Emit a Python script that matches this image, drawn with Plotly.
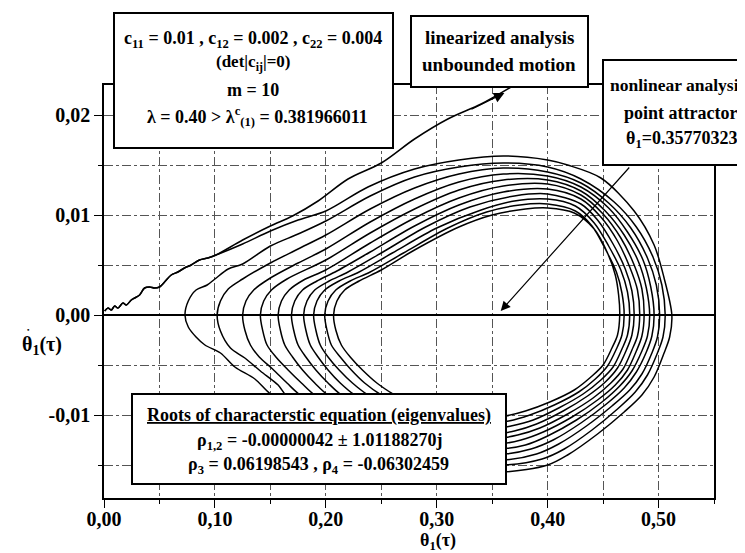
import plotly.graph_objects as go

# ---------------- data ----------------
x_tick_vals = [0.0, 0.1, 0.2, 0.3, 0.4, 0.5]
x_tick_text = ["0,00", "0,10", "0,20", "0,30", "0,40", "0,50"]
y_tick_vals = [-0.01, 0.0, 0.01, 0.02]
y_tick_text = ["-0,01", "0,00", "0,01", "0,02"]

# common start of both analyses (small wiggles near origin)
start_pts = [(0.0006, 0.0004), (0.0036, 0.0007), (0.0066, 0.0005), (0.0096, 0.0009),
             (0.0126, 0.0007), (0.0171, 0.0012), (0.0201, 0.0010), (0.0246, 0.0015),
             (0.0276, 0.0017), (0.0321, 0.0020), (0.0366, 0.0027), (0.0411, 0.0028),
             (0.0456, 0.0027), (0.0500, 0.0028), (0.0546, 0.0033), (0.0606, 0.0040),
             (0.0666, 0.0043), (0.0726, 0.0047), (0.0786, 0.0050), (0.0861, 0.0055),
             (0.0936, 0.0057), (0.1010, 0.0060)]

linearized_rest = [(0.125, 0.0075), (0.150, 0.0089), (0.170, 0.0099), (0.193, 0.0114),
                   (0.220, 0.0136), (0.250, 0.0152), (0.280, 0.0176), (0.310, 0.0196),
                   (0.340, 0.0211), (0.367, 0.0228)]

loop01_top = [(0.125, 0.0071), (0.150, 0.0084), (0.175, 0.0095), (0.200, 0.0104),
              (0.238, 0.0128), (0.280, 0.0146), (0.320, 0.0155), (0.360, 0.0159),
              (0.400, 0.0155), (0.418, 0.0150), (0.448, 0.0137), (0.478, 0.0104),
              (0.496, 0.0070), (0.505, 0.0037), (0.512, 0.0)]
loop01_bot = [(0.510, -0.0022), (0.505, -0.0038), (0.496, -0.0062), (0.485, -0.0080),
              (0.469, -0.0097), (0.445, -0.0119), (0.418, -0.0140), (0.400, -0.0150),
              (0.360, -0.0157), (0.320, -0.0154), (0.280, -0.0143), (0.240, -0.0125),
              (0.200, -0.0107), (0.170, -0.0092), (0.150, -0.0079), (0.136, -0.0064),
              (0.118, -0.0052), (0.105, -0.0038), (0.091, -0.0030), (0.083, -0.0022),
              (0.076, -0.0012), (0.073, 0.0)]
loop02_top = [(0.076, 0.0014), (0.083, 0.0025), (0.093, 0.0030), (0.100, 0.0036),
              (0.112, 0.0046), (0.125, 0.0051), (0.150, 0.0069), (0.175, 0.0081),
              (0.200, 0.0094), (0.240, 0.0119), (0.280, 0.0138), (0.320, 0.0148),
              (0.360, 0.0152), (0.400, 0.0148), (0.430, 0.0136), (0.460, 0.0113),
              (0.480, 0.0088), (0.495, 0.0058), (0.503, 0.0030), (0.506, 0.0)]
loop02_bot = [(0.504, -0.0022), (0.499, -0.0038), (0.490, -0.0060), (0.479, -0.0077),
              (0.463, -0.0094), (0.440, -0.0115), (0.415, -0.0134), (0.395, -0.0144),
              (0.360, -0.0150), (0.320, -0.0147), (0.280, -0.0135), (0.240, -0.0117),
              (0.200, -0.0098), (0.175, -0.0086), (0.164, -0.0080), (0.157, -0.0070),
              (0.141, -0.0056), (0.127, -0.0043), (0.114, -0.0033), (0.105, -0.0016),
              (0.102, 0.0)]
loop03_top = [(0.105, 0.0014), (0.112, 0.0026), (0.125, 0.0036), (0.150, 0.0052),
              (0.175, 0.0066), (0.200, 0.0080), (0.240, 0.0106), (0.280, 0.0127),
              (0.320, 0.0141), (0.360, 0.0147), (0.400, 0.0143), (0.430, 0.0132),
              (0.455, 0.0112), (0.475, 0.0087), (0.490, 0.0057), (0.498, 0.0030),
              (0.501, 0.0)]
loop03_bot = [(0.499, -0.0022), (0.494, -0.0038), (0.485, -0.0059), (0.474, -0.0075),
              (0.458, -0.0091), (0.435, -0.0111), (0.410, -0.0129), (0.390, -0.0139),
              (0.360, -0.0145), (0.320, -0.0141), (0.280, -0.0128), (0.240, -0.0110),
              (0.200, -0.0092), (0.177, -0.0080), (0.165, -0.0068), (0.152, -0.0054),
              (0.140, -0.0042), (0.132, -0.0030), (0.127, -0.0015), (0.125, 0.0)]
loop04_top = [(0.128, 0.0014), (0.135, 0.0025), (0.150, 0.0037), (0.175, 0.0052),
              (0.200, 0.0066), (0.240, 0.0093), (0.280, 0.0116), (0.320, 0.0133),
              (0.360, 0.0141), (0.400, 0.0139), (0.430, 0.0128), (0.455, 0.0107),
              (0.472, 0.0083), (0.486, 0.0055), (0.493, 0.0028), (0.496, 0.0)]
loop04_bot = [(0.494, -0.0021), (0.489, -0.0037), (0.480, -0.0057), (0.469, -0.0073),
              (0.453, -0.0089), (0.430, -0.0108), (0.405, -0.0125), (0.385, -0.0134),
              (0.360, -0.0139), (0.320, -0.0135), (0.280, -0.0122), (0.240, -0.0104),
              (0.210, -0.0090), (0.190, -0.0080), (0.178, -0.0068), (0.166, -0.0055),
              (0.155, -0.0042), (0.147, -0.0030), (0.143, -0.0015), (0.141, 0.0)]
loop05_top = [(0.144, 0.0014), (0.151, 0.0025), (0.165, 0.0036), (0.200, 0.0055),
              (0.240, 0.0082), (0.280, 0.0106), (0.320, 0.0125), (0.360, 0.0135),
              (0.400, 0.0135), (0.430, 0.0124), (0.452, 0.0104), (0.469, 0.0080),
              (0.482, 0.0053), (0.489, 0.0027), (0.492, 0.0)]
loop05_bot = [(0.490, -0.0021), (0.485, -0.0036), (0.476, -0.0056), (0.465, -0.0071),
              (0.449, -0.0087), (0.426, -0.0105), (0.400, -0.0121), (0.380, -0.0130),
              (0.355, -0.0134), (0.320, -0.0130), (0.280, -0.0117), (0.240, -0.0099),
              (0.220, -0.0089), (0.202, -0.0080), (0.190, -0.0068), (0.179, -0.0055),
              (0.170, -0.0042), (0.163, -0.0030), (0.159, -0.0015), (0.157, 0.0)]
loop06_top = [(0.160, 0.0014), (0.167, 0.0025), (0.180, 0.0035), (0.200, 0.0045),
              (0.240, 0.0072), (0.280, 0.0097), (0.320, 0.0117), (0.360, 0.0129),
              (0.400, 0.0131), (0.430, 0.0120), (0.450, 0.0101), (0.466, 0.0077),
              (0.478, 0.0050), (0.485, 0.0026), (0.487, 0.0)]
loop06_bot = [(0.485, -0.0021), (0.480, -0.0036), (0.472, -0.0055), (0.461, -0.0070),
              (0.445, -0.0085), (0.422, -0.0102), (0.396, -0.0117), (0.376, -0.0125),
              (0.355, -0.0129), (0.320, -0.0125), (0.280, -0.0112), (0.250, -0.0099),
              (0.230, -0.0089), (0.214, -0.0080), (0.202, -0.0068), (0.191, -0.0055),
              (0.182, -0.0042), (0.175, -0.0030), (0.171, -0.0015), (0.169, 0.0)]
loop07_top = [(0.172, 0.0014), (0.179, 0.0025), (0.192, 0.0034), (0.210, 0.0044),
              (0.240, 0.0063), (0.280, 0.0089), (0.320, 0.0110), (0.360, 0.0123),
              (0.400, 0.0126), (0.430, 0.0116), (0.448, 0.0098), (0.463, 0.0074),
              (0.474, 0.0048), (0.481, 0.0025), (0.483, 0.0)]
loop07_bot = [(0.481, -0.0021), (0.476, -0.0035), (0.468, -0.0054), (0.457, -0.0068),
              (0.441, -0.0083), (0.418, -0.0099), (0.393, -0.0113), (0.373, -0.0120),
              (0.350, -0.0124), (0.320, -0.0120), (0.290, -0.0110), (0.260, -0.0097),
              (0.240, -0.0088), (0.226, -0.0080), (0.213, -0.0068), (0.202, -0.0055),
              (0.193, -0.0042), (0.186, -0.0030), (0.182, -0.0015), (0.180, 0.0)]
loop08_top = [(0.183, 0.0014), (0.190, 0.0025), (0.203, 0.0034), (0.220, 0.0043),
              (0.250, 0.0062), (0.290, 0.0088), (0.330, 0.0108), (0.370, 0.0119),
              (0.400, 0.0121), (0.430, 0.0111), (0.445, 0.0095), (0.459, 0.0071),
              (0.470, 0.0046), (0.476, 0.0024), (0.478, 0.0)]
loop08_bot = [(0.476, -0.0020), (0.471, -0.0035), (0.463, -0.0053), (0.452, -0.0067),
              (0.436, -0.0081), (0.414, -0.0096), (0.390, -0.0109), (0.370, -0.0116),
              (0.350, -0.0119), (0.320, -0.0115), (0.290, -0.0106), (0.265, -0.0095),
              (0.250, -0.0087), (0.238, -0.0080), (0.224, -0.0068), (0.212, -0.0055),
              (0.202, -0.0042), (0.195, -0.0030), (0.191, -0.0015), (0.189, 0.0)]
loop09_top = [(0.192, 0.0014), (0.199, 0.0025), (0.212, 0.0034), (0.230, 0.0043),
              (0.260, 0.0062), (0.300, 0.0087), (0.340, 0.0105), (0.370, 0.0114),
              (0.400, 0.0116), (0.425, 0.0109), (0.442, 0.0092), (0.455, 0.0069),
              (0.466, 0.0045), (0.472, 0.0023), (0.474, 0.0)]
loop09_bot = [(0.472, -0.0020), (0.467, -0.0034), (0.459, -0.0052), (0.448, -0.0065),
              (0.432, -0.0079), (0.410, -0.0093), (0.387, -0.0105), (0.367, -0.0111),
              (0.350, -0.0114), (0.320, -0.0110), (0.295, -0.0102), (0.275, -0.0093),
              (0.260, -0.0086), (0.250, -0.0080), (0.235, -0.0068), (0.223, -0.0055),
              (0.213, -0.0042), (0.205, -0.0030), (0.201, -0.0015), (0.199, 0.0)]
loop10_top = [(0.202, 0.0014), (0.209, 0.0025), (0.222, 0.0034), (0.240, 0.0043),
              (0.270, 0.0062), (0.310, 0.0087), (0.345, 0.0103), (0.375, 0.0110),
              (0.400, 0.0111), (0.425, 0.0104), (0.440, 0.0089), (0.452, 0.0066),
              (0.462, 0.0043), (0.467, 0.0022), (0.469, 0.0)]
loop10_bot = [(0.467, -0.0020), (0.462, -0.0034), (0.454, -0.0051), (0.443, -0.0064),
              (0.428, -0.0077), (0.406, -0.0090), (0.384, -0.0100), (0.365, -0.0106),
              (0.350, -0.0108), (0.325, -0.0105), (0.300, -0.0098), (0.285, -0.0091),
              (0.272, -0.0086), (0.262, -0.0080), (0.246, -0.0068), (0.233, -0.0055),
              (0.222, -0.0042), (0.214, -0.0030), (0.209, -0.0015), (0.207, 0.0)]
loop11_top = [(0.210, 0.0014), (0.217, 0.0025), (0.230, 0.0034), (0.250, 0.0045),
              (0.280, 0.0065), (0.320, 0.0088), (0.350, 0.0100), (0.380, 0.0106),
              (0.400, 0.0107), (0.424, 0.0102), (0.442, 0.0086), (0.454, 0.0062),
              (0.461, 0.0040), (0.464, 0.0020), (0.465, 0.0)]
loop11_bot = [(0.463, -0.0020), (0.458, -0.0033), (0.450, -0.0050), (0.439, -0.0062),
              (0.424, -0.0075), (0.402, -0.0087), (0.380, -0.0096), (0.362, -0.0101),
              (0.345, -0.0103), (0.320, -0.0100), (0.300, -0.0095)]

attractor_theta = 0.35770323

# ---------------- figure ----------------
W, H = 745, 553
ML, MR, MT, MB = 96, 39, 77, 63
PW, PH = W - ML - MR, H - MT - MB


def px(x):
    return (x - ML) / PW


def py(y):
    return (H - MB - y) / PH


FONT = "Liberation Serif"

linearized = start_pts + linearized_rest
spiral = start_pts + loop01_top + loop01_bot
for seg in [loop02_top, loop02_bot, loop03_top, loop03_bot, loop04_top, loop04_bot,
            loop05_top, loop05_bot, loop06_top, loop06_bot, loop07_top, loop07_bot,
            loop08_top, loop08_bot, loop09_top, loop09_bot, loop10_top, loop10_bot,
            loop11_top, loop11_bot]:
    spiral = spiral + seg

fig = go.Figure()
line_style = dict(color="black", width=1.5, shape="spline", smoothing=0.9)
fig.add_trace(go.Scatter(x=[p[0] for p in spiral], y=[p[1] for p in spiral],
                         mode="lines", line=line_style, hoverinfo="skip"))
fig.add_trace(go.Scatter(x=[p[0] for p in linearized], y=[p[1] for p in linearized],
                         mode="lines", line=line_style, hoverinfo="skip"))

grid = dict(gridcolor="#555555", griddash="dashdot", gridwidth=0.8)
fig.update_layout(
    width=W, height=H,
    margin=dict(l=ML, r=MR, t=MT, b=MB, pad=0),
    paper_bgcolor="white", plot_bgcolor="white",
    showlegend=False,
    font=dict(family=FONT, color="black"),
    xaxis=dict(range=[0, 0.55], tickvals=x_tick_vals, ticktext=x_tick_text,
               showline=True, linecolor="black", linewidth=1.5, mirror=True,
               ticks="outside", ticklen=8, tickwidth=1.2, tickcolor="black",
               ticklabelstandoff=-6,
               zeroline=False, showgrid=True, **grid,
               minor=dict(dtick=0.05, showgrid=True, ticks="outside", ticklen=4,
                          tickcolor="black", **grid),
               tickfont=dict(family=FONT, size=20, color="black", weight="bold")),
    yaxis=dict(range=[-0.0183, 0.023], tickvals=y_tick_vals, ticktext=y_tick_text,
               showline=True, linecolor="black", linewidth=1.5, mirror=True,
               ticks="outside", ticklen=8, tickwidth=1.2, tickcolor="black",
               zeroline=True, zerolinecolor="black", zerolinewidth=1.5,
               showgrid=True, **grid,
               minor=dict(dtick=0.005, showgrid=True, ticks="outside", ticklen=4,
                          tickcolor="black", **grid),
               tickfont=dict(family=FONT, size=20, color="black", weight="bold")),
)

# boxes (pixel positions of the frames)
boxes = [(106, 5, 385, 140), (403, 8, 580, 79), (595, 52, 770, 157), (124, 386, 498, 476)]
for (x0, y0, x1, y1) in boxes:
    fig.add_shape(type="rect", xref="paper", yref="paper",
                  x0=px(x0), x1=px(x1), y0=py(y1), y1=py(y0),
                  fillcolor="white", line=dict(color="black", width=2), layer="above")


def label(text, xc, yc, size=18, anchor="center"):
    fig.add_annotation(text=text, xref="paper", yref="paper", x=px(xc), y=py(yc),
                       xanchor=anchor, yanchor="middle", showarrow=False,
                       font=dict(family=FONT, size=size, color="black", weight="bold"))


label("c<sub>11</sub> = 0.01 , c<sub>12</sub> = 0.002 , c<sub>22</sub> = 0.004", 245, 32)
label("(det|c<sub>ij</sub>|=0)", 245, 55, 17)
label("m = 10", 245, 82)
label("λ = 0.40 > λ<sup>c</sup><sub>(1)</sub> = 0.381966011", 249, 108)
label("linearized analysis", 491, 30, 19)
label("unbounded motion", 491, 57, 19)
label("nonlinear analysis", 600, 77, 17.5, "left")
label("point attractor", 672, 105, 18)
label("θ<sub>1</sub>=%.8f" % attractor_theta, 673, 132, 18)
label("<u>Roots of characterstic equation (eigenvalues)</u>", 311, 407)
label("ρ<sub>1,2</sub> = -0.00000042 ± 1.01188270j", 312, 433)
label("ρ<sub>3</sub> = 0.06198543 , ρ<sub>4</sub> = -0.06302459", 310, 457)

# axis titles
label("θ<sub>1</sub>(τ)", 430, 533, 18)
label("θ<sub>1</sub>(τ)", 12, 337, 20, "left")
label("•", 16.5, 322, 7, "left")

# arrows
fig.add_annotation(x=0.361, y=0.0222, ax=0.33, ay=0.0205, xref="x", yref="y",
                   axref="x", ayref="y", text="", showarrow=True, arrowhead=2,
                   arrowsize=1.6, arrowwidth=1.3, arrowcolor="black", standoff=0)
fig.add_annotation(x=attractor_theta, y=0.0004, ax=0.4748, ay=0.0149, xref="x", yref="y",
                   axref="x", ayref="y", text="", showarrow=True, arrowhead=2,
                   arrowsize=1.6, arrowwidth=1.2, arrowcolor="black", standoff=0)

fig.write_html("out.html")
